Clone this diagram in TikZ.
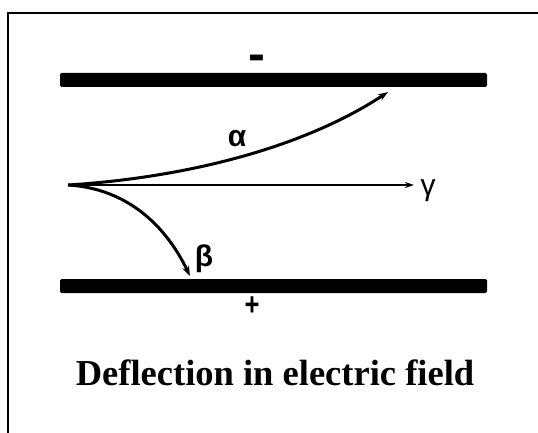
\documentclass[tikz,border=0pt]{standalone}
\usepackage{fontspec}
\setmainfont{Liberation Serif}
\newfontfamily\greekfont{Liberation Sans}
\usetikzlibrary{arrows.meta}
\tikzset{
  plate/.style={fill=black, rounded corners=1.5pt},
  ray/.style={line width=3pt, -{Stealth[length=10pt,width=7pt]}},
  gray ray/.style={line width=1.8pt, -{Stealth[length=9pt,width=6pt]}},
  greek/.style={font=\greekfont\fontsize{30}{32}\selectfont, inner sep=0pt},
}
\begin{document}
\begin{tikzpicture}[x=1pt,y=-1pt]
\useasboundingbox (0,0) rectangle (538,433);
\fill[white] (0,0) rectangle (538,433);
% frame
\draw[line width=2pt] (7.5,545) -- (7.5,13.5) -- (545,13.5);
% plates
\fill[plate] (60,73) rectangle (487,87);
\fill[plate] (60,279) rectangle (487,293);
\node[font=\greekfont\bfseries\fontsize{44}{46}\selectfont, inner sep=0pt, anchor=base] (minus) at (256.5,71) {\scalebox{1.15}[1.1]{-}};
\node[font=\greekfont\bfseries\fontsize{32}{34}\selectfont, inner sep=0pt, anchor=base] (plus) at (252,315) {\scalebox{0.8}[1]{+}};
% rays
\coordinate (o) at (68,185);
\coordinate (atip) at (388,92);
\coordinate (btip) at (190,276);
\coordinate (gtip) at (414,185);
\draw[ray] (o) .. controls (180,178) and (300,150) .. (atip);
\draw[ray] (o) .. controls (120,188) and (162,218) .. (btip);
\draw[gray ray] (o) -- (gtip);
\node[greek] (alpha) at (237,139) {\textbf{α}};
\node[greek] (beta) at (204,259) {\textbf{β}};
\node[greek] (gamma) at (428,191) {γ};
% title
\node[font=\bfseries\fontsize{36.5}{40}\selectfont, anchor=base] (title) at (275,385) {Deflection in electric field};
\end{tikzpicture}
\end{document}
